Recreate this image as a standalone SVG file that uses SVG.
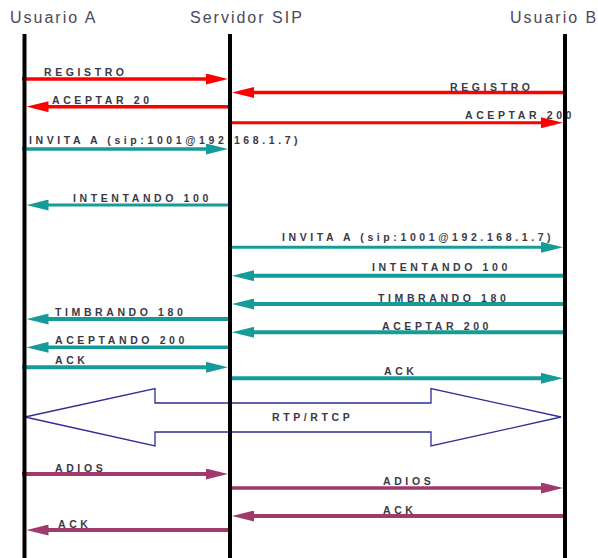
<svg xmlns="http://www.w3.org/2000/svg" width="598" height="558" viewBox="0 0 598 558">
<style>
.hdr{font-family:"Liberation Sans",Arial,sans-serif;font-size:16px;letter-spacing:2px;fill:#4a4a58}
.lbl{font-family:"Liberation Sans",Arial,sans-serif;font-size:10.5px;font-weight:bold;letter-spacing:3.6px;fill:#3a3a46}
.life{stroke:#000;stroke-width:4}
.red{stroke:#ff0000;stroke-width:3.5;fill:none}
.teal{stroke:#169c98;stroke-width:3.5;fill:none}
.pur{stroke:#a13a6c;stroke-width:3.5;fill:none}
.rtp{stroke:#2e2e96;stroke-width:1.3;fill:none}
</style>
<defs>
<marker id="hr" markerUnits="userSpaceOnUse" markerWidth="22" markerHeight="11" refX="14" refY="5.5" orient="auto"><path d="M0,0 L22,5.5 L0,11 Z" fill="#ff0000"/></marker>
<marker id="ht" markerUnits="userSpaceOnUse" markerWidth="22" markerHeight="11" refX="14" refY="5.5" orient="auto"><path d="M0,0 L22,5.5 L0,11 Z" fill="#169c98"/></marker>
<marker id="hp" markerUnits="userSpaceOnUse" markerWidth="22" markerHeight="11" refX="14" refY="5.5" orient="auto"><path d="M0,0 L22,5.5 L0,11 Z" fill="#a13a6c"/></marker>
</defs>
<rect width="598" height="558" fill="#fff"/>
<g id="connectors">
<line class="red" x1="22" y1="79" x2="220" y2="79" marker-end="url(#hr)"/>
<text class="lbl" x="44" y="76">REGISTRO</text>
<line class="red" x1="567" y1="92.5" x2="240" y2="92.5" marker-end="url(#hr)"/>
<text class="lbl" x="450" y="90.5">REGISTRO</text>
<line class="red" x1="232" y1="106.7" x2="34.5" y2="106.7" marker-end="url(#hr)"/>
<text class="lbl" x="52" y="104">ACEPTAR 20</text>
<line class="red" x1="228" y1="122.7" x2="555" y2="122.7" style="stroke-width:3" marker-end="url(#hr)"/>
<text class="lbl" x="465" y="119">ACEPTAR 200</text>
<line class="teal" x1="22" y1="149" x2="220" y2="149" marker-end="url(#ht)"/>
<text class="lbl" x="29" y="143.5">INVITA A (sip:1001@192.168.1.7)</text>
<line class="teal" x1="232" y1="205" x2="34.5" y2="205" style="stroke-width:3" marker-end="url(#ht)"/>
<text class="lbl" x="73" y="201.5">INTENTANDO 100</text>
<line class="teal" x1="228" y1="247.3" x2="555" y2="247.3" style="stroke-width:3" marker-end="url(#ht)"/>
<text class="lbl" x="282" y="241">INVITA A (sip:1001@192.168.1.7)</text>
<line class="teal" x1="567" y1="275.7" x2="240" y2="275.7" style="stroke-width:4" marker-end="url(#ht)"/>
<text class="lbl" x="372" y="271">INTENTANDO 100</text>
<line class="teal" x1="567" y1="304" x2="240" y2="304" style="stroke-width:4" marker-end="url(#ht)"/>
<text class="lbl" x="378" y="301.5">TIMBRANDO 180</text>
<line class="teal" x1="232" y1="319" x2="34.5" y2="319" style="stroke-width:4" marker-end="url(#ht)"/>
<text class="lbl" x="55" y="315.5">TIMBRANDO 180</text>
<line class="teal" x1="567" y1="332.3" x2="240" y2="332.3" style="stroke-width:4" marker-end="url(#ht)"/>
<text class="lbl" x="382" y="330">ACEPTAR 200</text>
<line class="teal" x1="232" y1="347.3" x2="34.5" y2="347.3" marker-end="url(#ht)"/>
<text class="lbl" x="55" y="344">ACEPTANDO 200</text>
<line class="teal" x1="22" y1="367.3" x2="220" y2="367.3" style="stroke-width:4" marker-end="url(#ht)"/>
<text class="lbl" x="55" y="364">ACK</text>
<line class="teal" x1="228" y1="378.3" x2="555" y2="378.3" style="stroke-width:4" marker-end="url(#ht)"/>
<text class="lbl" x="384" y="375">ACK</text>
<polygon class="rtp" points="25,417 155,388.5 155,403 431,403 431,388.5 561,417 431,446 431,432 155,432 155,446"/>
<text class="lbl" x="272" y="420.5">RTP/RTCP</text>
<line class="pur" x1="22" y1="474" x2="220" y2="474" style="stroke-width:4" marker-end="url(#hp)"/>
<text class="lbl" x="55" y="471.5">ADIOS</text>
<line class="pur" x1="228" y1="488" x2="555" y2="488" marker-end="url(#hp)"/>
<text class="lbl" x="383" y="484.5">ADIOS</text>
<line class="pur" x1="567" y1="516" x2="240" y2="516" style="stroke-width:4" marker-end="url(#hp)"/>
<text class="lbl" x="383" y="514">ACK</text>
<line class="pur" x1="232" y1="530" x2="34.5" y2="530" style="stroke-width:4" marker-end="url(#hp)"/>
<text class="lbl" x="58" y="528">ACK</text>
</g>
<g id="usuarioA">
<text class="hdr" x="10" y="22.5">Usuario A</text>
<line class="life" x1="24.5" y1="34" x2="24.5" y2="558"/>
</g>
<g id="servidorSIP">
<text class="hdr" x="190" y="22.5">Servidor SIP</text>
<line class="life" x1="230" y1="34" x2="230" y2="558"/>
</g>
<g id="usuarioB">
<text class="hdr" x="510" y="22.5">Usuario B</text>
<line class="life" x1="565" y1="34" x2="565" y2="558"/>
</g>
</svg>
